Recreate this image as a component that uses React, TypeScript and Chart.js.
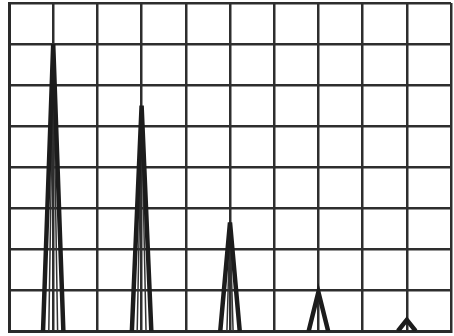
import React, { useEffect, useRef } from "react";
import { Chart, registerables } from "chart.js";

Chart.register(...registerables);

// Harmonic spectrum: peak positions (grid units) and heights
const peakPositions = [1, 3, 5, 7, 9];
const peakHeights = [7.0, 5.5, 2.65, 0.95, 0.27];
const peakHalfWidths = [0.23, 0.22, 0.22, 0.22, 0.2];
const innerHalfWidths = [0.1, 0.1, 0.07, 0, 0];

const xMin = 0;
const xMax = 10;
const yMin = 0;
const yMax = 8;

export default function App() {
  const ref = useRef<HTMLCanvasElement | null>(null);

  useEffect(() => {
    if (!ref.current) return;
    const datasets: any[] = [];
    peakPositions.forEach((c, i) => {
      const h = peakHeights[i];
      const w = peakHalfWidths[i];
      datasets.push({
        data: [
          { x: c - w, y: 0 },
          { x: c, y: h },
          { x: c + w, y: 0 },
        ],
        borderColor: "#1c1c1c",
        borderWidth: 4.5,
        borderJoinStyle: "miter",
        pointRadius: 0,
        fill: false,
        tension: 0,
      });
      const iw = innerHalfWidths[i];
      if (iw > 0) {
        datasets.push({
          data: [
            { x: c - iw, y: 0 },
            { x: c, y: h * 0.97 },
            { x: c + iw, y: 0 },
          ],
          borderColor: "#333333",
          borderWidth: 1.5,
          pointRadius: 0,
          fill: false,
          tension: 0,
        });
      }
    });

    const chart = new Chart(ref.current, {
      type: "line",
      data: { datasets },
      options: {
        animation: false,
        responsive: false,
        maintainAspectRatio: false,
        layout: { padding: { left: 9, top: 3, right: 3, bottom: 5 } },
        plugins: { legend: { display: false }, tooltip: { enabled: false } },
        scales: {
          x: {
            type: "linear",
            min: xMin,
            max: xMax,
            ticks: { display: false, stepSize: 1 },
            grid: { color: "#2e2e2e", lineWidth: 2.5, drawTicks: false, tickLength: 0 },
            border: { display: true, color: "#2a2a2a", width: 3 },
          },
          y: {
            type: "linear",
            min: yMin,
            max: yMax,
            ticks: { display: false, stepSize: 1 },
            grid: { color: "#2e2e2e", lineWidth: 2.5, drawTicks: false, tickLength: 0 },
            border: { display: true, color: "#2a2a2a", width: 3 },
          },
        },
      },
    });
    return () => chart.destroy();
  }, []);

  return (
    <div style={{ position: "fixed", left: 0, top: 0, width: 454, height: 336, background: "#ffffff" }}>
      <canvas ref={ref} width={454} height={336} style={{ display: "block" }} />
    </div>
  );
}
